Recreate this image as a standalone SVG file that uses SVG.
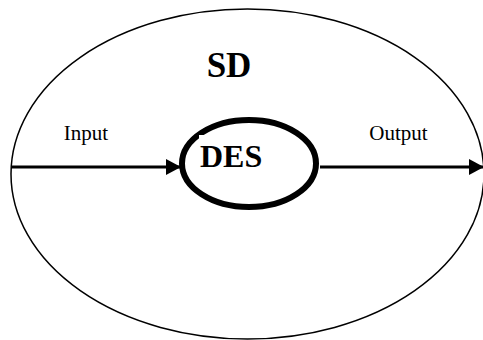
<svg xmlns="http://www.w3.org/2000/svg" width="483" height="340" viewBox="0 0 483 340">
<style>
.lbl{font-family:"Liberation Serif","Times New Roman",serif;fill:#000}
.big{font-weight:bold}
.conn{stroke:#000;stroke-width:3;fill:none}
</style>
<defs>
<marker id="ah" markerUnits="userSpaceOnUse" markerWidth="16" markerHeight="18" refX="15" refY="8" orient="auto">
<path d="M0,0 L15,8 L0,16 Z" fill="#000"/>
</marker>
</defs>
<rect width="483" height="340" fill="#fff"/>
<g id="SD">
<ellipse cx="247.5" cy="174" rx="236.5" ry="165" fill="none" stroke="#000" stroke-width="1.5"/>
<text class="lbl big" x="229" y="77" font-size="35" text-anchor="middle">SD</text>
</g>
<g id="connectors">
<line class="conn" x1="11" y1="167" x2="181" y2="167" marker-end="url(#ah)"/>
<line class="conn" x1="320" y1="167" x2="484" y2="167" marker-end="url(#ah)"/>
<text class="lbl" x="86" y="140" font-size="21" text-anchor="middle">Input</text>
<text class="lbl" x="398.5" y="140" font-size="21" text-anchor="middle">Output</text>
</g>
<g id="DES">
<ellipse cx="249" cy="163.5" rx="67" ry="43.5" fill="#fff" stroke="#000" stroke-width="6"/>
<rect x="199" y="135" width="94" height="34" fill="#fff"/>
<text class="lbl big" x="200" y="167" font-size="32">DES</text>
</g>
</svg>
